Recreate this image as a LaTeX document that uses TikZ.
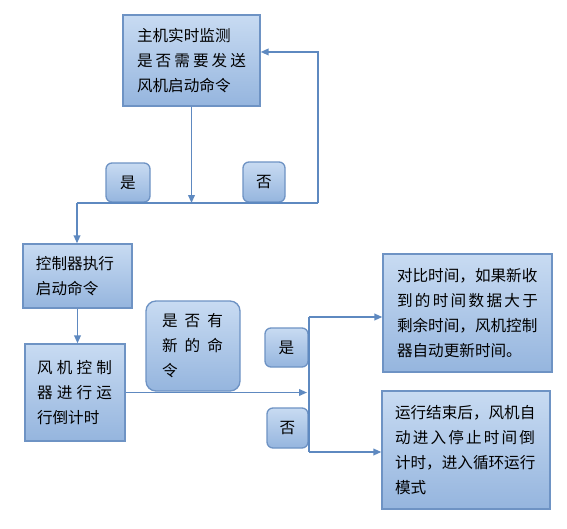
\documentclass[tikz,border=0pt]{standalone}
\usepackage{fontspec}
\setmainfont{Noto Sans CJK SC}
\usetikzlibrary{arrows.meta}
\definecolor{boxtop}{HTML}{C8DBF2}
\definecolor{boxbot}{HTML}{95B5DE}
\definecolor{boxline}{HTML}{6E93C4}
\definecolor{conn}{HTML}{5E89C0}
\newcommand{\jline}[2]{\makebox[#1][l]{#2}}
\tikzset{
  box/.style={draw=boxline, line width=1pt, top color=boxtop, bottom color=boxbot,
    align=left, font=\fontsize{11.7}{18.75}\selectfont, inner ysep=0pt},
  lab/.style={draw=boxline, line width=1pt, top color=boxtop, bottom color=boxbot,
    rounded corners=4.5pt, font=\fontsize{11.7}{14}\selectfont, inner sep=0pt},
  link/.style={draw=conn, line width=1.2pt},
  arr/.style={link, -{Triangle[length=6pt,width=5pt]}}
}
\begin{document}
\begin{tikzpicture}[x=0.75pt,y=-0.75pt]
\useasboundingbox[fill=white] (0,0) rectangle (567,528);

\node[box, text width=81.75pt, inner xsep=10.5pt, minimum height=68.25pt] (A) at (191.5,60.5)
  {主机实时监测\\\jline{81.75pt}{是\hfill 否\hfill 需\hfill 要\hfill 发\hfill 送}\\风机启动命令};
\node[box, text width=62.25pt, inner xsep=9.75pt, minimum height=48pt] (B) at (77.5,276)
  {控制器执行\\启动命令};
\node[box, text width=57pt, inner xsep=9pt, minimum height=72.75pt] (C) at (75,392.5)
  {\jline{56.25pt}{风\hfill 机\hfill 控\hfill 制}\\\jline{56.25pt}{器\hfill 进\hfill 行\hfill 运}\\行倒计时};
\node[box, rounded corners=7.5pt, text width=46.5pt, inner xsep=12pt, minimum height=67.5pt] (Q) at (193,346)
  {\jline{45.75pt}{是\hfill 否\hfill 有}\\\jline{45.75pt}{新\hfill 的\hfill 命}\\令};
\node[box, text width=105.75pt, inner xsep=10.5pt, minimum height=88.5pt] (D) at (467.5,313)
  {对比时间，如果新收\\\jline{105.75pt}{到\hfill 的\hfill 时\hfill 间\hfill 数\hfill 据\hfill 大\hfill 于}\\剩余时间，风机控制\\器自动更新时间。};
\node[box, text width=106.5pt, inner xsep=9.75pt, minimum height=88.5pt] (E) at (466,450)
  {运行结束后，风机自\\\jline{105pt}{动\hfill 进\hfill 入\hfill 停\hfill 止\hfill 时\hfill 间\hfill 倒}\\计时，进入循环运行\\模式};

\node[lab, minimum width=33pt, minimum height=29.25pt] (L1) at (128,182.5) {是};
\node[lab, minimum width=31.5pt, minimum height=30pt] (L2) at (264,182) {否};
\node[lab, minimum width=32.25pt, minimum height=29.25pt] (L3) at (286.5,347.5) {是};
\node[lab, minimum width=30.75pt, minimum height=30pt] (L4) at (287.5,428) {否};

\coordinate (jL) at (77,203);
\coordinate (jR) at (318,203);
\coordinate (m) at (307,393);
\coordinate (s1) at (309,317);
\coordinate (s2) at (309,452);

\draw[arr] (A.south) -- (A.south |- jL);
\draw[link] (jL) -- (jR);
\draw[arr] (jR) |- ([yshift=6.4pt]A.east);
\draw[arr] (jL) -- (jL |- B.north);
\draw[arr] (B.south) -- (B.south |- C.north);
\draw[arr] (C.east) -- (C.east -| m);
\draw[link] (s1) -- (s2);
\draw[arr] (s1) -- (s1 -| D.west);
\draw[arr] (s2) -- (s2 -| E.west);
\end{tikzpicture}
\end{document}
